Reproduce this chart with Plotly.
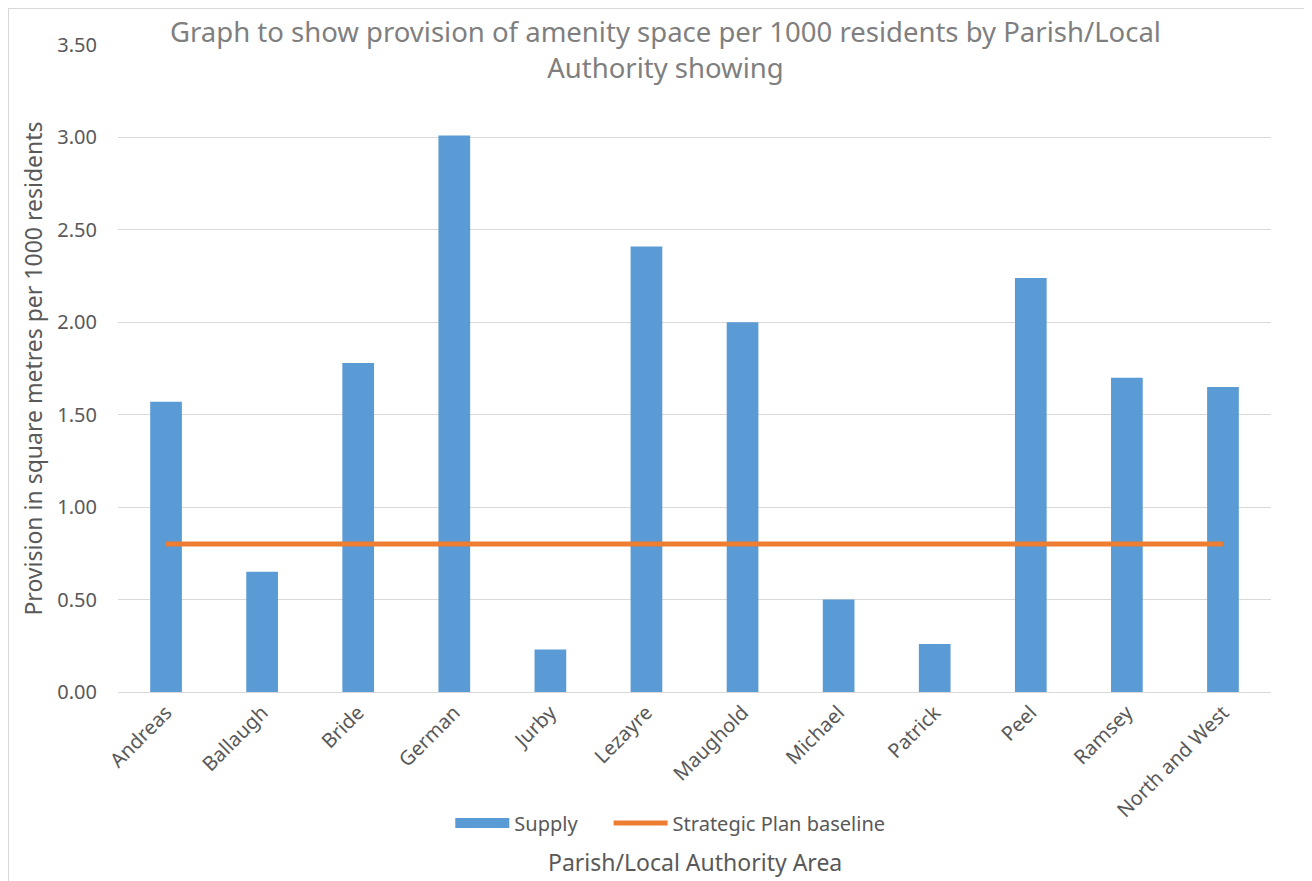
import plotly.graph_objects as go

categories = ["Andreas", "Ballaugh", "Bride", "German", "Jurby", "Lezayre",
              "Maughold", "Michael", "Patrick", "Peel", "Ramsey", "North and West"]
supply = [1.57, 0.65, 1.78, 3.01, 0.23, 2.41, 2.00, 0.50, 0.26, 2.24, 1.70, 1.65]
baseline = [0.8] * len(categories)
y_ticks = [0, 0.5, 1.0, 1.5, 2.0, 2.5, 3.0, 3.5]

FONT = "Noto Sans"
BLUE = "#5B9BD5"
ORANGE = "#ED7D31"
GREY = "#595959"

fig = go.Figure()
fig.add_trace(go.Bar(x=categories, y=supply, name="Supply", showlegend=False,
                     marker=dict(color=BLUE, line=dict(width=0))))
# legend entry for the bars (wide block as in the reference)
fig.add_trace(go.Scatter(x=[None], y=[None], name="Supply\u00a0\u00a0\u00a0\u00a0\u00a0", mode="lines",
                         line=dict(color=BLUE, width=14)))
fig.add_trace(go.Scatter(x=categories, y=baseline, name="Strategic Plan baseline",
                         mode="lines", line=dict(color=ORANGE, width=5)))

# page body has an 8px margin; compensate so the figure sits like the reference
fig.update_layout(
    width=1304, height=873,
    margin=dict(l=110, r=41, t=37, b=189),
    paper_bgcolor="white", plot_bgcolor="white",
    bargap=0.67,
    font=dict(family=FONT, color=GREY, size=20),
    showlegend=True,
    legend=dict(orientation="h", x=0.479, xanchor="center", y=-0.2025, yanchor="middle",
                font=dict(size=20, color=GREY), tracegroupgap=0, itemwidth=54),
    xaxis=dict(tickangle=-45, showline=True, linecolor="#D9D9D9", linewidth=1,
               tickfont=dict(size=20, color=GREY), ticks=""),
    yaxis=dict(range=[0, 3.5], tickvals=y_ticks, tickformat=".2f",
               gridcolor="#D9D9D9", gridwidth=1, zeroline=False, showline=False,
               tickfont=dict(size=20, color=GREY), ticklabelstandoff=20,
               title=dict(text="Provision in square metres per 1000 residents",
                          font=dict(size=23, color=GREY), standoff=8)),
    annotations=[
        dict(text="Graph to show provision of amenity space per 1000 residents by Parish/Local<br>Authority showing",
             xref="paper", yref="paper", x=0.475, y=0.9923, xanchor="center", yanchor="middle",
             showarrow=False, font=dict(size=27.5, color="#7F7F7F", family=FONT)),
        dict(text="Parish/Local Authority Area", xref="paper", yref="paper",
             x=0.500, y=-0.263, xanchor="center", yanchor="middle", showarrow=False,
             font=dict(size=23, color=GREY)),
    ],
    shapes=[dict(type="rect", xref="paper", yref="paper", x0=-0.0954, x1=1.031,
                 y0=-0.31, y1=1.057, line=dict(color="#D9D9D9", width=2), layer="below")],
)
fig.write_html("out.html")
